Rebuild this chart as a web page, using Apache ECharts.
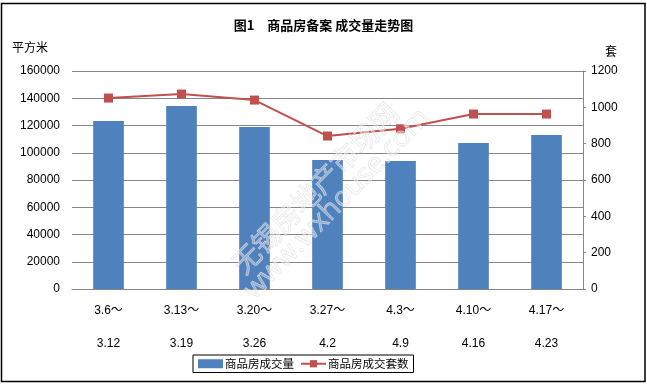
<!DOCTYPE html>
<html><head><meta charset="utf-8">
<script src="https://cdn.jsdelivr.net/npm/echarts@6/dist/echarts.min.js"></script>
<style>html,body{margin:0;padding:0;background:#fff}#c{width:647px;height:386px}</style>
</head><body><div id="c"></div>
<script>
const categories = ['3.6～\n3.12','3.13～\n3.19','3.20～\n3.26','3.27～\n4.2','4.3～\n4.9','4.10～\n4.16','4.17～\n4.23'];
const areaValues = [123300, 134300, 118900, 94700, 93900, 107200, 113000];
const unitValues = [1051, 1073, 1040, 842, 882, 963, 963];
const leftTicks = [0, 160000, 20000];
const rightTicks = [0, 1200, 200];
const seriesNames = ['商品房成交量', '商品房成交套数'];

const font = '"Liberation Sans","Noto Sans CJK SC",sans-serif';
const chart = echarts.init(document.getElementById('c'), null, {renderer: 'canvas'});
chart.setOption({
  backgroundColor: '#fff',
  animation: false,
  title: {
    text: '图1　商品房备案 成交量走势图',
    left: 'center', top: 14,
    textStyle: {fontFamily: '"Noto Sans CJK SC",sans-serif', fontWeight: 'bold', fontSize: 13, color: '#000'}
  },
  grid: {left: 72, right: 64, top: 71, bottom: 97},
  legend: {
    left: 193, top: 355, width: 212,
    padding: [3, 5, 3, 5],
    borderColor: '#000', borderWidth: 1,
    itemGap: 6,
    textStyle: {fontFamily: '"Noto Sans CJK SC",sans-serif', fontSize: 11.5, color: '#000', padding: [0,0,0,-3]},
    data: [
      {name: seriesNames[0], icon: 'rect', itemWidth: 25, itemHeight: 5},
      {name: seriesNames[1]}
    ],
    itemWidth: 25, itemHeight: 9
  },
  xAxis: {
    type: 'category',
    data: categories,
    axisLine: {lineStyle: {color: '#868686'}},
    axisTick: {show: false},
    axisLabel: {fontFamily: font, fontSize: 12, color: '#000', lineHeight: 33, margin: 5, interval: 0}
  },
  yAxis: [
    {
      type: 'value', min: leftTicks[0], max: leftTicks[1], interval: leftTicks[2],
      position: 'left',
      axisLine: {show: false}, axisTick: {show: false},
      axisLabel: {fontFamily: font, fontSize: 12, color: '#000', margin: 12, formatter: v => String(v)},
      splitLine: {lineStyle: {color: '#868686', width: 1}}
    },
    {
      type: 'value', min: rightTicks[0], max: rightTicks[1], interval: rightTicks[2],
      position: 'right',
      axisLine: {show: true, lineStyle: {color: '#868686'}},
      axisTick: {show: true, length: 3, lineStyle: {color: '#868686'}},
      axisLabel: {fontFamily: font, fontSize: 12, color: '#000', margin: 8, formatter: v => String(v)},
      splitLine: {show: false}
    }
  ],
  series: [
    {
      name: seriesNames[0], type: 'bar', yAxisIndex: 0, data: areaValues,
      barWidth: '42%', itemStyle: {color: '#4F81BD'}, z: 2
    },
    {
      name: seriesNames[1], type: 'line', yAxisIndex: 1, data: unitValues,
      symbol: 'rect', symbolSize: 9, showSymbol: true,
      lineStyle: {color: '#C0504D', width: 2},
      itemStyle: {color: '#C0504D'}, z: 3
    }
  ],
  graphic: [
    {type: 'rect', shape: {x: 1.5, y: 3.5, width: 643.5, height: 378}, style: {fill: 'none', stroke: '#000', lineWidth: 1.5}, z: 100, silent: true},
    {type: 'text', left: 12, top: 41, style: {text: '平方米', font: '12px "Noto Sans CJK SC"', fill: '#000'}},
    {type: 'text', left: 605, top: 45, style: {text: '套', font: '12px "Noto Sans CJK SC"', fill: '#000'}},
    {type: 'text', x: 315, y: 188, rotation: 0.80, z: 50, silent: true,
      style: {text: '无锡房地产市场网', font: '28px "Noto Sans CJK SC"', fill: 'rgba(255,255,255,0.35)', stroke: 'rgba(215,215,215,0.7)', lineWidth: 0.8, align: 'center', verticalAlign: 'middle'}},
    {type: 'text', x: 337, y: 204, rotation: 0.80, z: 50, silent: true,
      style: {text: 'www.wxhouse.com', font: '28px "Open Sans"', fill: 'rgba(255,255,255,0.35)', stroke: 'rgba(215,215,215,0.7)', lineWidth: 0.8, align: 'center', verticalAlign: 'middle'}}
  ]
});
</script></body></html>
